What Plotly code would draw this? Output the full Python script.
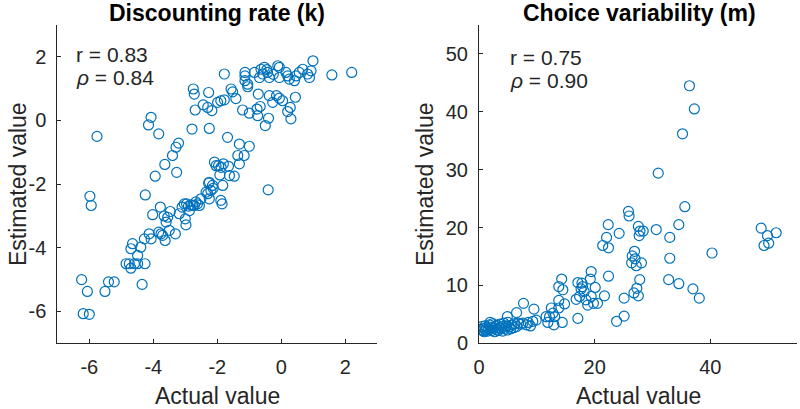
import plotly.graph_objects as go

# ---------------- data ----------------
k_actual = [
    -5.76, -5.98, -5.94, -6.24, -6.06, -6.19, -6.00, -5.51, -5.40, -5.22, -4.35,
    -4.85, -4.75, -4.70, -4.59, -4.49, -4.26, -4.49,
    -4.70, -4.65, -4.39, -4.28, -4.13, -4.07, -3.83, -3.76, -3.71, -3.50, -3.31, -3.63,
    -4.02, -3.66, -3.78, -3.47, -3.55, -3.60, -3.19, -3.10, -3.00, -2.98, -2.96, -2.90,
    -2.87, -2.77, -2.67, -2.56, -2.51, -2.30, -2.20, -2.25, -2.15, -1.83, -1.89, -1.85,
    -2.09, -1.96, -1.88, -1.81, -1.65, -1.62, -1.47, -1.36, -1.31,
    -4.25, -3.94, -3.64, -3.27, -3.40, -3.29, -3.21, -3.83, -4.15, -4.07, -2.79, -2.25, -1.68,
    -1.00, -1.16, -1.31, -0.41, -3.03, -2.82, -2.62, -2.72, -2.27, -2.35, -2.25, -2.13,
    -1.92, -2.04,
    -2.75, -2.72, -2.27, -2.69, -2.44, -2.30, -2.17, -1.99, -1.89, -1.78, -1.57, -1.52,
    -1.42, -1.05, -0.72, -1.21, -1.00, -0.76, -0.66, -0.74, -0.375, -0.27, -0.15, -0.06,
    0.04, 0.44, -0.40, -0.50, 0.20, 0.28, 0.30,
    -1.78, -1.135, -1.135, -1.135, -1.05, -0.84, -0.635, -0.58, -0.68, -0.53, -0.43,
    -0.375, -0.11, -0.06, -0.06, 0.146, 0.20, 0.25, 0.41, 0.46, 0.56, 0.67, 0.82, 0.93,
    0.88, 0.99, 1.58, 2.20, -0.25, -0.45,
]
k_estimated = [
    -0.50, -2.38, -2.67, -5.00, -5.37, -6.07, -6.09, -5.37, -5.07, -5.07, -5.15,
    -4.50, -4.50, -4.64, -4.50, -4.50, -4.50, -4.24,
    -4.03, -3.87, -3.98, -3.72, -3.56, -3.72, -3.51, -3.56, -3.61, -3.45, -3.56, -3.77,
    -2.96, -3.00, -2.72, -2.86, -3.04, -3.19, -2.93, -2.72, -3.09, -3.28, -2.62, -2.69,
    -2.83, -2.67, -2.56, -2.67, -2.46, -2.30, -2.20, -1.94, -2.04, -2.04, -2.51, -2.62,
    -1.31, -1.42, -1.47, -1.36, -1.44, -1.73, -1.75, -1.10, -0.74,
    -2.34, -1.75, -1.38, -1.63, -1.10, -0.84, -0.71, -0.42, -0.14, 0.10, -0.27, -0.25, -0.53,
    -0.81, -1.10, -1.36, -2.18, -2.62, -2.65, -2.62, -2.67, -1.97, -2.25, -2.46, -2.13,
    -1.71, -1.42,
    0.99, 0.83, 0.88, 0.33, 0.49, 0.41, 0.31, 0.57, 0.62, 0.65, 0.99, 0.90,
    0.69, 1.06, 0.83, 0.33, 0.23, 0.36, 0.44, 0.15, 0.78, 0.57, 0.78, 0.70,
    0.62, 0.73, 0.07, -0.16, 0.28, 0.41, 0.05,
    1.46, 1.51, 1.40, 1.25, 1.14, 1.51, 1.61, 1.46, 1.35, 1.67, 1.51,
    1.35, 1.72, 1.67, 1.35, 1.51, 1.40, 1.30, 1.25, 1.40, 1.51, 1.61, 1.46, 1.56,
    1.35, 1.875, 1.43, 1.51, 1.45, 1.60,
]

m_actual = [
    36.4, 37.25, 35.2, 31.0, 35.6, 25.85, 25.96, 22.35, 24.24, 22.06, 21.4, 22.4,
    27.56, 27.85, 27.7, 28.4, 30.66, 34.56, 33.0, 33.0, 40.3, 48.8, 49.9, 49.3, 50.1, 51.4,
    26.9, 26.5, 27.0, 26.4, 27.2, 28.1,
    27.8, 27.3, 26.8, 27.56,
    32.8, 34.56, 37.0, 38.1,
    22.4, 21.7, 25.1, 23.8, 25.1,
    19.4, 19.25, 20.1,
    17.1, 17.8, 17.9, 18.2, 17.65, 17.4, 18.5, 18.8, 19.4, 19.8, 20.5,
    14.3, 13.8, 14.5, 13.8, 14.8, 13.8,
    16.8, 17.1, 14.4,
    12.5, 12.8, 12.2, 13.1, 11.6, 11.9, 12.95,
    9.5, 7.7, 6.5, 4.9, 9.3, 8.5, 8.9, 7.6, 8.2, 9.9,
    0.3, 0.5, 0.6, 0.8, 1.0, 1.1, 1.3, 1.5, 1.6, 1.8, 1.9, 2.1, 2.2, 2.4, 2.5, 2.7,
    2.8, 3.0, 3.1, 3.3, 3.5, 3.6, 3.8, 4.0, 4.1, 4.3, 4.5, 4.7, 4.9, 5.0, 5.2, 5.5,
    5.7, 6.0, 6.2, 6.5, 6.8, 7.2, 1.9, 0.9,
]
m_estimated = [
    44.5, 40.5, 36.2, 29.4, 23.6, 22.8, 22.0, 20.5, 19.0, 18.3, 16.9, 16.5,
    20.2, 19.4, 18.6, 19.4, 19.65, 20.5, 18.3, 14.7, 15.6, 19.9, 18.6, 16.9, 17.3, 19.1,
    15.9, 15.1, 14.6, 13.9, 13.4, 13.9,
    11.0, 9.5, 8.7, 8.2,
    11.0, 10.3, 9.4, 7.8,
    11.6, 8.2, 7.8, 3.8, 4.7,
    12.4, 11.1, 9.65,
    10.5, 10.4, 9.8, 8.96, 9.4, 8.1, 7.5, 6.6, 8.1, 6.9, 6.9,
    11.1, 9.8, 9.25, 7.4, 6.8, 6.1,
    7.6, 4.3, 3.6,
    6.1, 5.2, 4.6, 4.6, 4.6, 3.6, 3.2,
    5.9, 6.9, 5.3, 4.6, 3.8, 3.6, 3.0, 3.5, 3.2, 4.0,
    2.4, 2.9, 2.2, 2.6, 3.0, 2.3, 2.7, 2.1, 2.5, 3.2, 2.4, 2.8, 2.2, 3.4, 2.6, 2.0,
    2.9, 2.4, 3.1, 2.2, 2.7, 3.3, 2.5, 2.9, 2.1, 3.5, 2.6, 3.0, 2.3, 3.6, 2.8, 2.5,
    3.2, 2.7, 3.4, 2.9, 3.5, 3.3, 3.6, 2.0,
]

k_xtick_vals = [-6, -4, -2, 0, 2]
k_xtick_text = ["-6", "-4", "-2", "0", "2"]
k_ytick_vals = [-6, -4, -2, 0, 2]
k_ytick_text = ["-6", "-4", "-2", "0", "2"]
m_xtick_vals = [0, 20, 40]
m_xtick_text = ["0", "20", "40"]
m_ytick_vals = [0, 10, 20, 30, 40, 50]
m_ytick_text = ["0", "10", "20", "30", "40", "50"]

panel_titles = ["Discounting rate (k)", "Choice variability (m)"]
stats_left = ["r = 0.83", "<i>\u03c1</i> = 0.84"]
stats_right = ["r = 0.75", "<i>\u03c1</i> = 0.90"]
x_label = "Actual value"
y_label = "Estimated value"

# ---------------- figure ----------------
W, H = 800, 409
FONT = "Liberation Sans, Arial, Helvetica, sans-serif"
BLUE = "#0072BD"
AX = "#262626"


def fx(p):
    return p / W


def fy(p):
    return 1 - p / H


marker = dict(symbol="circle-open", size=10, color=BLUE, line=dict(width=1.2, color=BLUE))

fig = go.Figure()
fig.add_trace(go.Scatter(x=k_actual, y=k_estimated, mode="markers", marker=marker,
                         xaxis="x", yaxis="y", showlegend=False, hoverinfo="skip"))
fig.add_trace(go.Scatter(x=m_actual, y=m_estimated, mode="markers", marker=marker,
                         xaxis="x2", yaxis="y2", showlegend=False, hoverinfo="skip"))

common = dict(showline=True, linecolor=AX, linewidth=1, ticks="inside", ticklen=4,
              tickcolor=AX, tickwidth=1, showgrid=False, zeroline=False, automargin=False,
              tickfont=dict(family=FONT, size=20, color=AX), fixedrange=True)

ydom = [fy(343.3), fy(25)]

fig.update_layout(
    width=W, height=H,
    margin=dict(l=0, r=0, t=0, b=0, autoexpand=False),
    paper_bgcolor="white", plot_bgcolor="white",
    font=dict(family=FONT, color=AX),
    xaxis=dict(domain=[fx(57.3), fx(377.3)], range=[-7, 3], tickvals=k_xtick_vals,
               ticktext=k_xtick_text, anchor="y", ticklabelstandoff=6, **common),
    yaxis=dict(domain=ydom, range=[-7, 3], tickvals=k_ytick_vals,
               ticktext=k_ytick_text, anchor="x", ticklabelstandoff=6, **common),
    xaxis2=dict(domain=[fx(479), fx(797)], range=[0, 55], tickvals=m_xtick_vals,
                ticktext=m_xtick_text, anchor="y2", ticklabelstandoff=6, **common),
    yaxis2=dict(domain=ydom, range=[0, 55], tickvals=m_ytick_vals,
                ticktext=m_ytick_text, anchor="x2", ticklabelstandoff=6, **common),
)

ann = []
# titles
for cx, t in ((217, panel_titles[0]), (639, panel_titles[1])):
    ann.append(dict(text="<b>" + t + "</b>", x=fx(cx), y=fy(13), xref="paper", yref="paper",
                    xanchor="center", yanchor="middle", showarrow=False,
                    font=dict(family=FONT, size=23, color="black")))
# x labels
for cx in (217, 638):
    ann.append(dict(text=x_label, x=fx(cx), y=fy(396), xref="paper", yref="paper",
                    xanchor="center", yanchor="middle", showarrow=False,
                    font=dict(family=FONT, size=23, color=AX)))
# y labels
for cx in (18, 425):
    ann.append(dict(text=y_label, x=fx(cx), y=fy(184), xref="paper", yref="paper",
                    xanchor="center", yanchor="middle", showarrow=False, textangle=-90,
                    font=dict(family=FONT, size=23, color=AX)))
# stats
for (lx, ys, txts) in ((74, (54, 77), stats_left), (508, (57, 80), stats_right)):
    for yy, t in zip(ys, txts):
        ann.append(dict(text=t, x=fx(lx), y=fy(yy), xref="paper", yref="paper",
                        xanchor="left", yanchor="middle", showarrow=False,
                        font=dict(family=FONT, size=21, color=AX)))

fig.update_layout(annotations=ann)
fig.write_html("out.html", config={"displayModeBar": False},
               post_script="document.body.style.margin='0';document.body.style.overflow='hidden';")
